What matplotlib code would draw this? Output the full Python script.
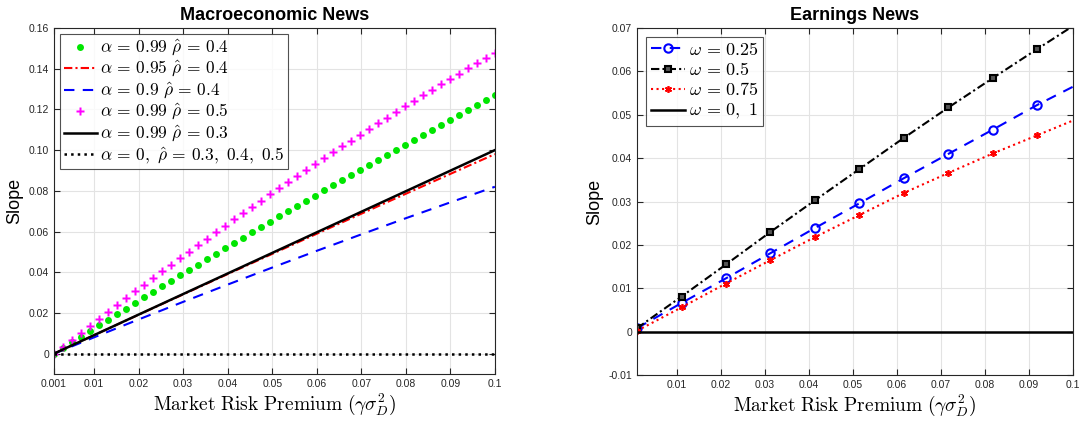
import numpy as np
import matplotlib
matplotlib.use('Agg')
import matplotlib.pyplot as plt

plt.rcParams['mathtext.fontset'] = 'cm'
plt.rcParams['font.family'] = ['Liberation Sans', 'DejaVu Sans']

#------------------------ Macroeconomic news data ------------------------
# 50 evaluation points for the marker series
x_dense = np.linspace(0.001, 0.1, 50)

g_a99_r4 = [0.0, 0.00280, 0.00559, 0.00838, 0.01115, 0.01392, 0.01668, 0.01943, 0.02217, 0.02490,
            0.02762, 0.03033, 0.03304, 0.03573, 0.03842, 0.04110, 0.04377, 0.04643, 0.04908, 0.05172,
            0.05436, 0.05698, 0.05960, 0.06221, 0.06481, 0.06740, 0.06998, 0.07255, 0.07512, 0.07767,
            0.08022, 0.08276, 0.08529, 0.08781, 0.09032, 0.09282, 0.09531, 0.09780, 0.10027, 0.10274,
            0.10520, 0.10765, 0.11009, 0.11252, 0.11495, 0.11736, 0.11977, 0.12216, 0.12455, 0.12693]

m_a99_r5 = [0.0, 0.00348, 0.00694, 0.01038, 0.01380, 0.01720, 0.02059, 0.02395, 0.02730, 0.03062,
            0.03393, 0.03722, 0.04048, 0.04373, 0.04696, 0.05018, 0.05337, 0.05654, 0.05969, 0.06283,
            0.06594, 0.06904, 0.07212, 0.07517, 0.07821, 0.08123, 0.08423, 0.08721, 0.09018, 0.09312,
            0.09604, 0.09895, 0.10183, 0.10470, 0.10755, 0.11038, 0.11319, 0.11598, 0.11875, 0.12150,
            0.12423, 0.12694, 0.12964, 0.13231, 0.13497, 0.13761, 0.14022, 0.14282, 0.14540, 0.14796]

x_line = [0.001, 0.01, 0.02, 0.03, 0.04, 0.05, 0.06, 0.07, 0.08, 0.09, 0.1]
r_a95_r4 = [0.0, 0.00907, 0.01912, 0.02912, 0.03909, 0.04901, 0.05890, 0.06875, 0.07855, 0.08832, 0.09804]
b_a90_r4 = [0.0, 0.00802, 0.01680, 0.02544, 0.03394, 0.04230, 0.05052, 0.05860, 0.06654, 0.07434, 0.08200]
k_a99_r3 = [0.0, 0.00909, 0.01919, 0.02929, 0.03939, 0.04949, 0.05960, 0.06970, 0.07980, 0.08990, 0.1000]
k_a0 = [0.0] * 11

#------------------------ Earnings news data ------------------------
x_earn = [0.001, 0.0111, 0.0212, 0.0313, 0.0414, 0.0515, 0.0616, 0.0717, 0.0818, 0.0919, 0.1]
w025 = [0.0008, 0.0066, 0.0123, 0.0181, 0.0239, 0.0296, 0.0354, 0.0410, 0.0466, 0.0523, 0.0565]
w05 = [0.0008, 0.0081, 0.0155, 0.0230, 0.0303, 0.0375, 0.0447, 0.0517, 0.0585, 0.0652, 0.0705]
w075 = [0.0002, 0.0056, 0.0111, 0.0165, 0.0218, 0.0269, 0.0320, 0.0366, 0.0411, 0.0453, 0.0487]
w0_1 = [0.0] * 11

xticks_l = [0.001, 0.01, 0.02, 0.03, 0.04, 0.05, 0.06, 0.07, 0.08, 0.09, 0.1]
xlabels_l = ['0.001', '0.01', '0.02', '0.03', '0.04', '0.05', '0.06', '0.07', '0.08', '0.09', '0.1']
yticks_l = [0, 0.02, 0.04, 0.06, 0.08, 0.10, 0.12, 0.14, 0.16]
ylabels_l = ['0', '0.02', '0.04', '0.06', '0.08', '0.10', '0.12', '0.14', '0.16']
xticks_r = [0.01, 0.02, 0.03, 0.04, 0.05, 0.06, 0.07, 0.08, 0.09, 0.1]
xlabels_r = ['0.01', '0.02', '0.03', '0.04', '0.05', '0.06', '0.07', '0.08', '0.09', '0.1']
yticks_r = [-0.01, 0, 0.01, 0.02, 0.03, 0.04, 0.05, 0.06, 0.07]
ylabels_r = ['-0.01', '0', '0.01', '0.02', '0.03', '0.04', '0.05', '0.06', '0.07']

xlab = r'$\mathrm{Market\ Risk\ Premium}\ (\gamma\sigma_D^2)$'
dark = '#262626'
asterisk = (6, 2, 0)


def style(ax):
    ax.grid(True, color='#e3e3e3', lw=0.8)
    ax.set_axisbelow(True)
    ax.tick_params(direction='in', top=True, right=True, labelsize=7.5, colors=dark, length=4)
    for s in ax.spines.values():
        s.set_color(dark)
        s.set_linewidth(0.8)


#------------------- Plotting ---------------
fig = plt.figure(figsize=(10.86, 4.23), dpi=100)
ax1 = fig.add_axes([0.0497, 0.1158, 0.406, 0.818])
ax2 = fig.add_axes([0.5866, 0.1135, 0.4015, 0.820])

ax1.plot(x_dense, g_a99_r4, 'o', color='#00e600', ms=5, mec='none', label=r'$\alpha\,=\,0.99\ \hat{\rho}\,=\,0.4$')
ax1.plot(x_line, r_a95_r4, '-.', color='#ff0000', lw=1.5, dashes=(4, 1.5, 1, 1.5), label=r'$\alpha\,=\,0.95\ \hat{\rho}\,=\,0.4$')
ax1.plot(x_line, b_a90_r4, '--', color='#0000ff', lw=1.5, dashes=(5, 4), label=r'$\alpha\,=\,0.9\ \hat{\rho}\,=\,0.4$')
ax1.plot(x_dense, m_a99_r5, 'P', color='#ff00ff', ms=5.5, mec='none', label=r'$\alpha\,=\,0.99\ \hat{\rho}\,=\,0.5$')
ax1.plot(x_line, k_a99_r3, '-', color='k', lw=1.8, label=r'$\alpha\,=\,0.99\ \hat{\rho}\,=\,0.3$')
ax1.plot(x_line, k_a0, ':', color='k', lw=1.8, label=r'$\alpha\,=\,0,\ \hat{\rho}\,=\,0.3,\ 0.4,\ 0.5$')

ax1.set_xlim(0.001, 0.1)
ax1.set_ylim(-0.01, 0.16)
ax1.set_xticks(xticks_l, xlabels_l)
ax1.set_yticks(yticks_l, ylabels_l)
style(ax1)
ax1.set_title('Macroeconomic News', fontsize=13, fontweight='bold', pad=6)
ax1.set_ylabel('Slope', fontsize=13, labelpad=4)
ax1.set_xlabel(xlab, fontsize=14, labelpad=2)
leg = ax1.legend(loc='upper left', fontsize=12.5, handlelength=1.9, handletextpad=0.2,
                 borderpad=0.2, labelspacing=0.06, borderaxespad=0.35, fancybox=False)
leg.get_frame().set_edgecolor(dark)
leg.get_frame().set_linewidth(0.8)

ax2.plot(x_earn, w025, '--o', color='#0000ff', lw=1.5, dashes=(5, 4), ms=6, mfc='none', mew=1.5,
         markevery=slice(0, 10), label=r'$\omega\,=\,0.25$')
ax2.plot(x_earn, w05, '-.s', color='k', lw=1.5, dashes=(4, 1.5, 1, 1.5), ms=4, mfc='#555555', mew=1.5,
         markevery=slice(0, 10), label=r'$\omega\,=\,0.5$')
ax2.plot(x_earn, w075, ':', marker=asterisk, color='#ff0000', lw=1.5, ms=5, mew=1.2,
         markevery=slice(0, 10), label=r'$\omega\,=\,0.75$')
ax2.plot(x_earn, w0_1, '-', color='k', lw=1.8, label=r'$\omega\,=\,0,\ 1$')

ax2.set_xlim(0.001, 0.1)
ax2.set_ylim(-0.01, 0.07)
ax2.set_xticks(xticks_r, xlabels_r)
ax2.set_yticks(yticks_r, ylabels_r)
style(ax2)
ax2.set_title('Earnings News', fontsize=13, fontweight='bold', pad=6)
ax2.set_ylabel('Slope', fontsize=13, labelpad=4)
ax2.set_xlabel(xlab, fontsize=14, labelpad=2)
leg2 = ax2.legend(loc='upper left', fontsize=13, handlelength=1.9, handletextpad=0.2,
                  borderpad=0.25, labelspacing=0.18, borderaxespad=0.5, fancybox=False)
leg2.get_frame().set_edgecolor(dark)
leg2.get_frame().set_linewidth(0.8)

fig.savefig('out.png', dpi=100)
